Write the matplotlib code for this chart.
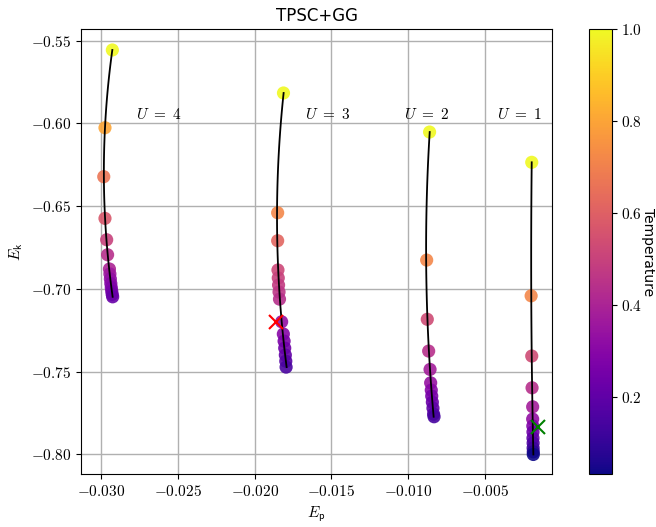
import matplotlib
matplotlib.use("Agg")
import matplotlib.pyplot as plt
import numpy as np
from matplotlib.ticker import FuncFormatter

plt.rcParams["mathtext.fontset"] = "cm"

# U = 4
ep_u4 = [-0.02926, -0.02974, -0.02982, -0.02974, -0.02963, -0.02957, -0.02945,
         -0.02942, -0.02939, -0.02936, -0.02933, -0.02930, -0.02927, -0.02924]
ek_u4 = [-0.5556, -0.6026, -0.6322, -0.6574, -0.6703, -0.6794, -0.6880,
         -0.6910, -0.6940, -0.6968, -0.6992, -0.7014, -0.7033, -0.7048]
t_u4 = [1.0, 0.80, 0.67, 0.57, 0.50, 0.44, 0.40, 0.36, 0.33, 0.30, 0.28, 0.26, 0.24, 0.22]

# U = 3
ep_u3 = [-0.01812, -0.01850, -0.01850, -0.01848, -0.01846, -0.01844, -0.01841,
         -0.01838, -0.01824, -0.01813, -0.01808, -0.01804, -0.01800, -0.01797, -0.01795]
ek_u3 = [-0.5816, -0.6540, -0.6709, -0.6886, -0.6934, -0.6977, -0.7019,
         -0.7062, -0.7199, -0.7273, -0.7316, -0.7358, -0.7400, -0.7437, -0.7473]
t_u3 = [1.0, 0.72, 0.62, 0.52, 0.50, 0.48, 0.46, 0.44, 0.33, 0.30, 0.27, 0.24, 0.21, 0.18, 0.15]

# U = 2
ep_u2 = [-0.00861, -0.00880, -0.00876, -0.00867, -0.00858, -0.00854, -0.00850,
         -0.00847, -0.00843, -0.00839, -0.00835, -0.00832]
ek_u2 = [-0.6052, -0.6826, -0.7184, -0.7376, -0.7487, -0.7568, -0.7612,
         -0.7648, -0.7685, -0.7721, -0.7757, -0.7773]
t_u2 = [1.0, 0.72, 0.53, 0.44, 0.38, 0.34, 0.30, 0.26, 0.23, 0.20, 0.17, 0.14]

# U = 1
ep_u1 = [-0.00196, -0.00200, -0.00196, -0.00194, -0.00190, -0.00190, -0.00189,
         -0.00188, -0.00188, -0.00187, -0.00187, -0.00186, -0.00186]
ek_u1 = [-0.6235, -0.7042, -0.7406, -0.7598, -0.7713, -0.7787, -0.7829,
         -0.7865, -0.7902, -0.7932, -0.7962, -0.7985, -0.8001]
t_u1 = [1.0, 0.72, 0.53, 0.44, 0.38, 0.33, 0.28, 0.24, 0.20, 0.16, 0.12, 0.08, 0.033]

u_labels = ["$U\\ =\\ 4$", "$U\\ =\\ 3$", "$U\\ =\\ 2$", "$U\\ =\\ 1$"]
label_x = [-0.0262, -0.01522, -0.00878, -0.00273]
label_y = -0.5944

red_cross = (-0.01861, -0.7201)
green_cross = (-0.00153, -0.7838)

series = [(ep_u4, ek_u4, t_u4), (ep_u3, ek_u3, t_u3),
          (ep_u2, ek_u2, t_u2), (ep_u1, ek_u1, t_u1)]

fig = plt.figure(figsize=(6.56, 5.27), dpi=100)
ax = fig.add_axes([0.1235, 0.1006, 0.718, 0.8438])
cax = fig.add_axes([0.8983, 0.1006, 0.0341, 0.8438])

for ep, ek, t in series:
    ep = np.array(ep)
    ek = np.array(ek)
    sc = ax.scatter(ep, ek, c=t, cmap="plasma", vmin=0.033, vmax=1.0,
                    s=90, alpha=0.9, edgecolors="none", zorder=2)
    # smooth fit through the points
    coef = np.polyfit(ek, ep, 2)
    yy = np.linspace(ek.min(), ek.max(), 100)
    ax.plot(np.polyval(coef, yy), yy, color="black", lw=1.3, zorder=3)

for lab, lx in zip(u_labels, label_x):
    ax.text(lx, label_y, lab, ha="center", va="center", fontsize=11)

ax.plot(*red_cross, marker="x", color="red", ms=10, mew=1.5, ls="none", zorder=4)
ax.plot(*green_cross, marker="x", color="green", ms=10, mew=1.5, ls="none", zorder=4)

ax.set_xlim(-0.0313, -0.00064)
ax.set_ylim(-0.8119, -0.5431)
ax.set_xticks([-0.030, -0.025, -0.020, -0.015, -0.010, -0.005])
ax.set_yticks([-0.80, -0.75, -0.70, -0.65, -0.60, -0.55])
ax.xaxis.set_major_formatter(FuncFormatter(lambda v, p: f"${v:.3f}$"))
ax.yaxis.set_major_formatter(FuncFormatter(lambda v, p: f"${v:.2f}$"))
ax.tick_params(labelsize=11)
ax.grid(True, color="#b0b0b0", lw=1)
ax.set_axisbelow(True)
ax.set_xlabel(r"$E_\mathsf{p}$", fontsize=11)
ax.set_ylabel(r"$E_\mathsf{k}$", fontsize=11)
ax.set_title("TPSC+GG", fontsize=12)

cb = fig.colorbar(sc, cax=cax)
cb.solids.set_alpha(1)
cb.set_ticks([0.2, 0.4, 0.6, 0.8, 1.0])
cb.ax.yaxis.set_major_formatter(FuncFormatter(lambda v, p: f"${v:.1f}$"))
cb.ax.tick_params(labelsize=11)
fig.text(0.988, 0.5225, "Temperature", rotation=270, ha="center", va="center",
         fontsize=10)

fig.savefig("out.png", dpi=100)
